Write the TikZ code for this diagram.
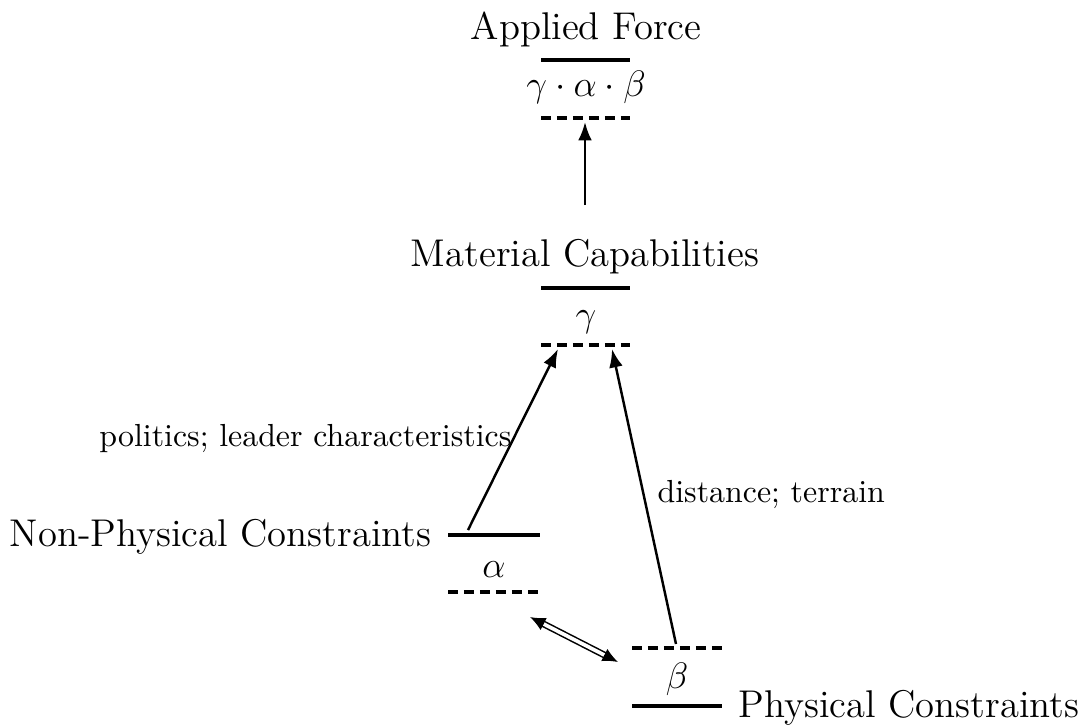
\documentclass[tikz,border=0pt]{standalone}
\usetikzlibrary{arrows.meta}
\begin{document}
\begin{tikzpicture}[x=0.326pt,y=-0.326pt,
  lvl/.style={line width=1pt},
  lvldash/.style={line width=1pt,dash pattern=on 3.3pt off 1.9pt},
  big/.style={font=\fontsize{12.6pt}{15pt}\selectfont,inner sep=0pt},
  lab/.style={font=\fontsize{10.4pt}{12.5pt}\selectfont,inner sep=0pt},
  arr/.style={line width=0.8pt,-{Latex[length=6pt,width=4.5pt]}},
  dbl/.style={double,double distance=1.2pt,line width=0.5pt,{Latex[length=5pt,width=4.5pt]}-{Latex[length=5pt,width=4.5pt]}}]
\useasboundingbox (0,0) rectangle (1085,725);
% Applied Force
\node[big,anchor=base] (af) at (586,39) {Applied Force};
\coordinate (afs1) at (541,60); \coordinate (afs2) at (630,60);
\draw[lvl] (afs1) -- (afs2);
\node[big,anchor=base] (afv) at (586,96) {$\gamma\cdot\alpha\cdot\beta$};
\coordinate (afd1) at (541,118); \coordinate (afd2) at (630,118);
\draw[lvldash] (afd1) -- (afd2);
\coordinate (afin) at (585,122);
% Material Capabilities
\node[big,anchor=base] (mc) at (585,266) {Material Capabilities};
\coordinate (mcs1) at (541,288); \coordinate (mcs2) at (630,288);
\draw[lvl] (mcs1) -- (mcs2);
\coordinate (mcout) at (585,205);
\node[big,anchor=base] (mcv) at (586,326) {$\gamma$};
\coordinate (mcd1) at (541,345); \coordinate (mcd2) at (630,345);
\draw[lvldash] (mcd1) -- (mcd2);
\coordinate (mcinA) at (558,349); \coordinate (mcinB) at (612,349);
% Non-Physical
\node[big,anchor=base east] (np) at (432,546) {Non-Physical Constraints};
\coordinate (nps1) at (448,535); \coordinate (nps2) at (540,535);
\draw[lvl] (nps1) -- (nps2);
\node[big,anchor=base] (npv) at (494,577) {$\alpha$};
\coordinate (npd1) at (448,592); \coordinate (npd2) at (540,592);
\draw[lvldash] (npd1) -- (npd2);
\coordinate (npout) at (468,530);
\coordinate (npdb) at (530,617);
% Physical
\node[big,anchor=base west] (pc) at (738,717) {Physical Constraints};
\coordinate (pcd1) at (632,648); \coordinate (pcd2) at (722,648);
\draw[lvldash] (pcd1) -- (pcd2);
\node[big,anchor=base] (pcv) at (677,688) {$\beta$};
\coordinate (pcs1) at (632,706); \coordinate (pcs2) at (722,706);
\draw[lvl] (pcs1) -- (pcs2);
\coordinate (pcout) at (676,644);
\coordinate (pcdb) at (618,662);
% arrows
\draw[arr] (mcout) -- (afin);
\draw[arr] (npout) -- (mcinA);
\draw[arr] (pcout) -- (mcinB);
\draw[dbl] (npdb) -- (pcdb);
% labels
\node[lab,anchor=base east] (l1) at (512,446) {politics; leader characteristics};
\node[lab,anchor=base west] (l2) at (657,502) {distance; terrain};
\end{tikzpicture}
\end{document}
